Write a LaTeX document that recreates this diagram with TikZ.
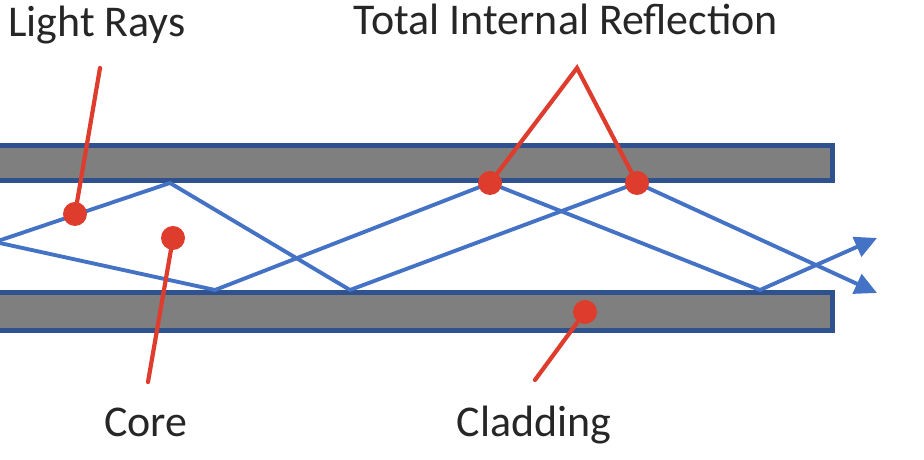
\documentclass[tikz,border=0pt]{standalone}
\usepackage{fontspec}
\setmainfont{Carlito}
\usepackage{tikz}
\usetikzlibrary{arrows.meta}
\definecolor{fibblue}{RGB}{47,82,143}
\definecolor{fibgray}{RGB}{127,127,127}
\definecolor{rayblue}{RGB}{68,114,196}
\definecolor{tagred}{RGB}{222,61,46}
\definecolor{txtgray}{RGB}{38,38,38}

\begin{document}
\begin{tikzpicture}[>={Triangle[length=2.2mm,width=2.1mm]},font=\fontsize{12.5}{15}\selectfont,
  bar/.style={draw=fibblue,fill=fibgray,line width=1.5pt},
  ray/.style={rayblue,line width=1.1pt,line join=round},
  tag/.style={tagred,line width=1.2pt,line cap=round},
  dot/.style={circle,fill=tagred,inner sep=0pt,minimum size=2.4mm},
  lbl/.style={text=txtgray,anchor=base,inner sep=0pt}]
  \useasboundingbox (0,0) rectangle (9.24,4.6);
  % cladding
  \draw[bar] (-0.1,2.795) rectangle (8.325,3.145);
  \draw[bar] (-0.1,1.295) rectangle (8.325,1.675);
  % rays
  \coordinate (src) at (-0.05,2.18);
  \coordinate (a1) at (1.70,2.77);
  \coordinate (a2) at (3.50,1.70);
  \coordinate (a3) at (6.37,2.77);
  \coordinate (a4) at (8.77,1.67);
  \coordinate (b1) at (2.15,1.70);
  \coordinate (b2) at (4.90,2.77);
  \coordinate (b3) at (7.60,1.70);
  \coordinate (b4) at (8.77,2.22);
  \draw[ray,->] (src) -- (a1) -- (a2) -- (a3) -- (a4);
  \draw[ray,->] (src) -- (b1) -- (b2) -- (b3) -- (b4);
  % callouts
  \node[dot] (lrdot) at (0.75,2.46) {};
  \node[dot] (coredot) at (1.73,2.22) {};
  \node[dot] (tir1) at (b2) {};
  \node[dot] (tir2) at (a3) {};
  \node[dot] (claddot) at (5.85,1.48) {};
  \coordinate (lrtip) at (1.00,3.92);
  \coordinate (coretip) at (1.48,0.78);
  \coordinate (tirtip) at (5.77,3.92);
  \coordinate (cladtip) at (5.35,0.80);
  \draw[tag] (lrtip) -- (lrdot);
  \draw[tag] (coretip) -- (coredot);
  \draw[tag,line join=miter] (tir1) -- (tirtip) -- (tir2);
  \draw[tag] (cladtip) -- (claddot);
  \node[lbl] (lrlabel) at (0.97,4.23) {Light Rays};
  \node[lbl] (tirlabel) at (5.66,4.25) {Total Internal Reflection};
  \node[lbl] (corelabel) at (1.46,0.23) {Core};
  \node[lbl] (cladlabel) at (5.34,0.23) {Cladding};
\end{tikzpicture}
\end{document}
